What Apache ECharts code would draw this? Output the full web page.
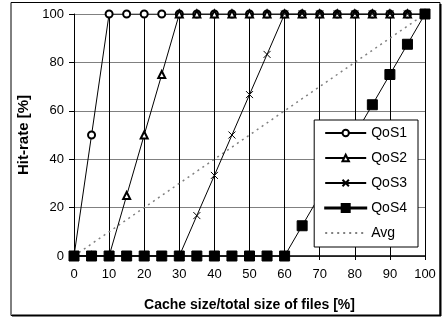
<!DOCTYPE html>
<html><head><meta charset="utf-8">
<script src="https://cdn.jsdelivr.net/npm/echarts@6/dist/echarts.min.js"></script>
<style>html,body{margin:0;padding:0;background:#fff}#c{width:442px;height:320px}</style>
</head><body><div id="c"></div>
<script>
const xValues = [0,5,10,15,20,25,30,35,40,45,50,55,60,65,70,75,80,85,90,95,100];
const qos1 = [0,50,100,100,100,100,100,100,100,100,100,100,100,100,100,100,100,100,100,100,100];
const qos2 = [0,0,0,25,50,75,100,100,100,100,100,100,100,100,100,100,100,100,100,100,100];
const qos3 = [0,0,0,0,0,0,0,16.7,33.3,50,66.7,83.3,100,100,100,100,100,100,100,100,100];
const qos4 = [0,0,0,0,0,0,0,0,0,0,0,0,0,12.5,25,37.5,50,62.5,75,87.5,100];
const avg  = [0,5,10,15,20,25,30,35,40,45,50,55,60,65,70,75,80,85,90,95,100];
const xTicks = [0,10,20,30,40,50,60,70,80,90,100];
const yTicks = [0,20,40,60,80,100];
const seriesNames = ['QoS1','QoS2','QoS3','QoS4','Avg'];

const pair = arr => xValues.map((x,i)=>[x,arr[i]]);
const font = 'Liberation Sans, Arial, sans-serif';
const chart = echarts.init(document.getElementById('c'), null, {renderer:'canvas'});
const base = {type:'line', lineStyle:{color:'#000', width:1}, itemStyle:{color:'#000', borderColor:'#000', borderWidth:1}, animation:false, z:3};
chart.setOption({
  animation:false,
  graphic:[
    {type:'rect', shape:{x:11,y:2.5,width:429,height:313}, style:{fill:'none', stroke:'#000', lineWidth:1}, z:0},
    {type:'line', shape:{x1:12,y1:315.5,x2:441,y2:315.5}, style:{stroke:'#000', lineWidth:2}},
    {type:'line', shape:{x1:440.5,y1:4,x2:440.5,y2:316}, style:{stroke:'#000', lineWidth:2}}
  ],
  grid:{left:74, right:17, top:14, bottom:64},
  xAxis:{type:'value', min:xTicks[0], max:xTicks[xTicks.length-1], interval:10,
    name:'Cache size/total size of files [%]', nameLocation:'middle', nameGap:42,
    nameTextStyle:{fontFamily:font, fontSize:14, fontWeight:'bold', color:'#000'},
    axisLine:{lineStyle:{color:'#000', width:1.5}}, axisTick:{show:true, length:4, lineStyle:{color:'#000'}},
    axisLabel:{fontFamily:font, fontSize:13, color:'#000', margin:12},
    splitLine:{show:true, lineStyle:{color:'#000', width:1}}},
  yAxis:{type:'value', min:yTicks[0], max:yTicks[yTicks.length-1], interval:20,
    name:'Hit-rate [%]', nameLocation:'middle', nameGap:34, nameRotate:90,
    nameTextStyle:{fontFamily:font, fontSize:15, fontWeight:'bold', color:'#000'},
    axisLine:{show:true, lineStyle:{color:'#000', width:1}}, axisTick:{show:true, length:5, lineStyle:{color:'#000'}},
    axisLabel:{fontFamily:font, fontSize:13, color:'#000', margin:10},
    splitLine:{show:true, lineStyle:{color:'#808080', width:1}}},
  legend:{orient:'vertical', right:24, top:120, itemWidth:41, itemHeight:8, itemGap:11, z:20,
    padding:[6,11,7,10], backgroundColor:'#fff', borderColor:'#000', borderWidth:1, borderRadius:0,
    textStyle:{fontFamily:font, fontSize:14, color:'#000'},
    data:[
      {name:seriesNames[0]},
      {name:seriesNames[1]},
      {name:seriesNames[2]},
      {name:seriesNames[3], icon:'path://M0,3.5h16v1h-16zM16.5,0h8v8h-8zM25,3.5h16v1h-16z'},
      {name:seriesNames[4], itemStyle:{opacity:0}}
    ]},
  series:[
    Object.assign({}, base, {name:seriesNames[4], data:pair(avg), showSymbol:false, symbol:'none', lineStyle:{color:'#808080', width:1.5, type:[2,4]}, itemStyle:{color:'#808080'}, z:2}),
    Object.assign({}, base, {name:seriesNames[0], data:pair(qos1), symbol:'emptyCircle', symbolSize:7}),
    Object.assign({}, base, {name:seriesNames[1], data:pair(qos2), symbol:'emptyTriangle', symbolSize:7}),
    Object.assign({}, base, {name:seriesNames[2], data:pair(qos3), symbol:'path://M0,0L10,10M10,0L0,10', symbolSize:7, itemStyle:{color:'none', borderColor:'#000', borderWidth:1}}),
    Object.assign({}, base, {name:seriesNames[3], data:pair(qos4), symbol:'rect', symbolSize:10, z:4})
  ]
});
</script></body></html>
